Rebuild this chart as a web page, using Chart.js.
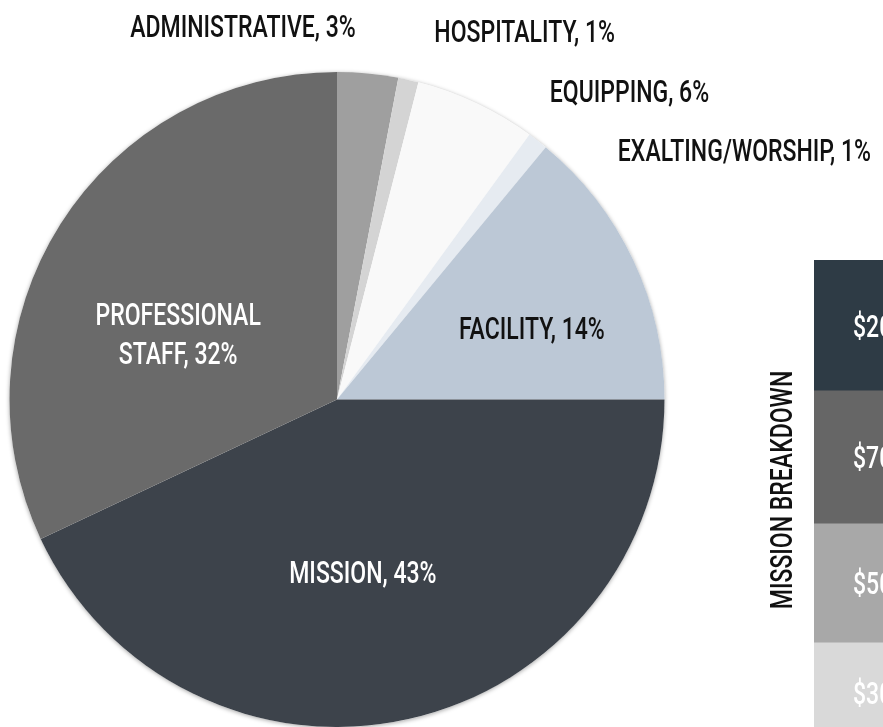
<!DOCTYPE html>
<html>
<head>
<meta charset="utf-8">
<script src="https://cdn.jsdelivr.net/npm/chart.js@4.4.1/dist/chart.umd.min.js"></script>
<style>
  html, body { margin: 0; padding: 0; background: #fff; overflow: hidden; }
  #wrap { position: relative; width: 883px; height: 727px; overflow: hidden; }
  #pie { position: absolute; left: 0; top: 0; }
  #bar { position: absolute; left: 700px; top: 0; }
</style>
</head>
<body>
<div id="wrap">
  <canvas id="pie" width="883" height="727"></canvas>
  <canvas id="bar" width="272" height="742"></canvas>
</div>
<script>
// budget split, clockwise from 12 o'clock
const categories = ['ADMINISTRATIVE', 'HOSPITALITY', 'EQUIPPING', 'EXALTING/WORSHIP', 'FACILITY', 'MISSION', 'PROFESSIONAL\nSTAFF'];
const shares = [3, 1, 6, 1, 14, 43, 32];
const sliceColors = ['#9f9f9f', '#d4d4d4', '#f9f9f9', '#e6ebf1', '#bcc8d6', '#3d434b', '#6a6a6a'];

// mission breakdown stack, top to bottom
const missionAmounts = ['$20,000', '$70,000', '$50,000', '$30,000'];
const missionShares = [27, 27.6, 24.7, 20.7];
const missionColors = ['#2e3b45', '#666666', '#a8a8a8', '#d9d9d9'];

const FONT = "500 32px Roboto, 'Liberation Sans', sans-serif";
let squeeze = null;

// squash the font sideways so it reads like the narrow display face of the original
function getSqueeze(ctx) {
  if (squeeze === null) {
    ctx.save();
    ctx.font = FONT;
    const w = ctx.measureText('ADMINISTRATIVE, 3%').width + ctx.measureText('MISSION BREAKDOWN').width;
    ctx.restore();
    squeeze = 464 / w;
  }
  return squeeze;
}

function drawLabel(ctx, text, x, capMid, color, align, rotate) {
  const sx = getSqueeze(ctx);
  ctx.save();
  ctx.translate(x, capMid);
  if (rotate) ctx.rotate(-Math.PI / 2);
  ctx.scale(sx, 1);
  ctx.font = FONT;
  ctx.fillStyle = color;
  ctx.textAlign = align || 'center';
  ctx.textBaseline = 'alphabetic';
  ctx.fillText(text, 0, 11.5);
  ctx.restore();
}

// label anchors as fractions of the radius, relative to the pie centre
const spots = [[-0.287, -1.142], [0.573, -1.128], [0.893, -0.945], [1.244, -0.764],
               [0.595, -0.22], [0.079, 0.524], [-0.485, -0.203]];

const pieShadow = {
  id: 'pieShadow',
  beforeDatasetsDraw(chart) {
    const arc = chart.getDatasetMeta(0).data[0];
    const ctx = chart.ctx;
    ctx.save();
    ctx.shadowColor = 'rgba(0,0,0,0.35)';
    ctx.shadowBlur = 4;
    ctx.shadowOffsetY = 1;
    ctx.beginPath();
    ctx.arc(arc.x, arc.y, arc.outerRadius, 0, Math.PI * 2);
    ctx.fillStyle = '#fff';
    ctx.fill();
    ctx.restore();
  }
};

const pieLabels = {
  id: 'pieLabels',
  afterDatasetsDraw(chart) {
    const ctx = chart.ctx;
    chart.getDatasetMeta(0).data.forEach((arc, i) => {
      const r = arc.outerRadius;
      const x = arc.x + spots[i][0] * r;
      const y = arc.y + spots[i][1] * r;
      const color = (i === 5 || i === 6) ? '#ffffff' : '#111111';
      const lines = categories[i].split('\n');
      lines[lines.length - 1] += ', ' + shares[i] + '%';
      const gap = 39;
      lines.forEach((line, k) => {
        drawLabel(ctx, line, x, y + (k - (lines.length - 1) / 2) * gap, color);
      });
    });
  }
};

new Chart(document.getElementById('pie'), {
  type: 'pie',
  data: {
    labels: categories,
    datasets: [{
      data: shares,
      backgroundColor: sliceColors,
      borderWidth: 0
    }]
  },
  options: {
    responsive: false,
    animation: false,
    events: [],
    layout: { padding: { left: 9, top: 72, right: 218, bottom: 0 } },
    plugins: {
      legend: { display: false },
      tooltip: { enabled: false }
    }
  },
  plugins: [pieShadow, pieLabels]
});

const missionLabels = {
  id: 'missionLabels',
  afterDatasetsDraw(chart) {
    const ctx = chart.ctx;
    chart.data.datasets.forEach((ds, i) => {
      const bar = chart.getDatasetMeta(i).data[0];
      const left = bar.x - bar.width / 2;
      drawLabel(ctx, missionAmounts[i], left + 39, (bar.y + bar.base) / 2, '#ffffff', 'left');
    });
    const area = chart.chartArea;
    drawLabel(ctx, 'MISSION BREAKDOWN', area.left - 34, area.top + 230, '#111111', 'center', true);
  }
};

new Chart(document.getElementById('bar'), {
  type: 'bar',
  data: {
    labels: ['MISSION'],
    datasets: missionAmounts.map((amt, i) => ({
      label: amt,
      data: [missionShares[i]],
      backgroundColor: missionColors[i],
      borderWidth: 0,
      barPercentage: 1,
      categoryPercentage: 1
    }))
  },
  options: {
    responsive: false,
    animation: false,
    events: [],
    layout: { padding: { left: 114, top: 260, right: 0, bottom: 0 } },
    plugins: {
      legend: { display: false },
      tooltip: { enabled: false }
    },
    scales: {
      x: { display: false, stacked: true },
      y: { display: false, stacked: true, reverse: true, min: 0, max: 100 }
    }
  },
  plugins: [missionLabels]
});
</script>
</body>
</html>
